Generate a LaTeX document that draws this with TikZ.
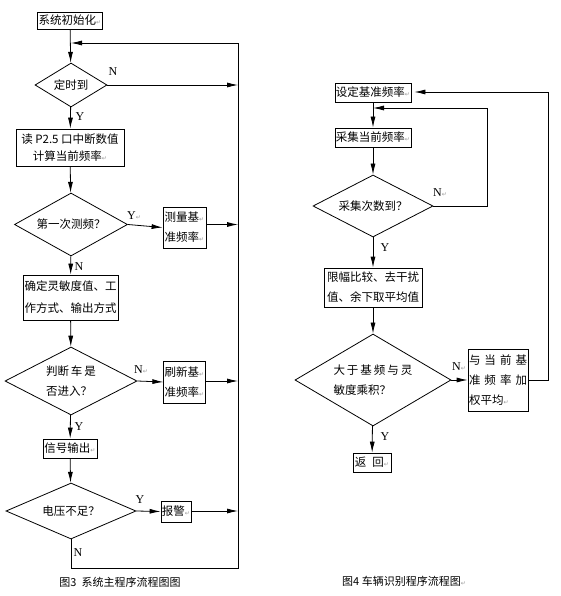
\documentclass[tikz,border=0pt]{standalone}
\usepackage{fontspec}
\setmainfont{Liberation Serif}
\newfontfamily\cjk{Noto Sans CJK SC}
\newfontfamily\symfont{DejaVu Sans}
\usetikzlibrary{arrows.meta,shapes.geometric}
\def\retmark{{\symfont\fontsize{6}{6}\selectfont\color{black!40}↵}}
\tikzset{
	box/.style={draw, line width=0.8pt, inner sep=1pt, align=center, font=\cjk\fontsize{11.5}{20}\selectfont},
	dia/.style={draw, diamond, aspect=2, line width=0.8pt, inner sep=0pt, align=center, font=\cjk\fontsize{11.5}{20}\selectfont},
	arr/.style={line width=0.8pt, -{Latex[length=11pt,width=5pt]}},
	lin/.style={line width=0.8pt},
	lab/.style={inner sep=0pt, font=\fontsize{12}{12}\selectfont},
	figcap/.style={inner sep=0pt, font=\cjk\fontsize{11}{12}\selectfont}
}

\begin{document}
\begin{tikzpicture}[x=1pt, y=-1pt]
			%%%%% 图3 %%%%%
			\useasboundingbox (0,0) rectangle (560,596);
			
			\node[box, minimum width=61pt, minimum height=17pt] (init) at (70,20.5) {系统初始化\retmark};
			\node[dia, minimum width=72pt, minimum height=44pt] (timer) at (71,85) {定时到};
			\node[box, minimum width=108pt, minimum height=37pt, font=\cjk\fontsize{11.5}{17}\selectfont] (read) at (70,147.5) {读 P2.5 口中断数值\\计算当前频率\retmark};
			\node[dia, minimum width=113pt, minimum height=63pt] (first) at (71,224.5) {第一次测频？};
			\node[box, minimum width=43pt, minimum height=41pt] (measure) at (184.5,227.5) {测量基\retmark\\准频率\retmark};
			\node[box, minimum width=95pt, minimum height=45pt, font=\cjk\fontsize{11.5}{22}\selectfont] (sens) at (70.5,297.5) {确定灵敏度值、工\\作方式、输出方式};
			\node[dia, minimum width=132pt, minimum height=68pt, align=left] (car) at (71,381) {判断\hspace{2pt}车\hspace{2pt}是\\否进入？};
			\node[box, minimum width=41pt, minimum height=42pt] (refresh) at (184.5,382) {刷新基\retmark\\准频率\retmark};
			\node[box, minimum width=54pt, minimum height=19pt] (output) at (70,448.5) {信号输出\retmark};
			\node[dia, minimum width=130pt, minimum height=56pt] (volt) at (71,511) {电压不足？};
			\node[box, minimum width=30pt, minimum height=21pt] (alarm) at (176,511.5) {报警\retmark};
			
			\coordinate (join) at (71,43);
			\coordinate (ltop) at (238,43);
			\coordinate (lbot) at (238,568);
			\coordinate (lcorner) at (71,568);
			
			\draw[arr] (init) -- (timer);
			\draw[arr] (timer) -- (read);
			\draw[arr] (read) -- (first);
			\draw[arr] (first) -- (sens);
			\draw[arr] (sens) -- (car);
			\draw[arr] (car) -- (output);
			\draw[arr] (output) -- (volt);
			
			\draw[arr] (first.east) -- (measure.west);
			\draw[arr] (car.east) -- (refresh.west);
			\draw[arr] (volt.east) -- (alarm.west);
			
			\draw[arr] (timer.east) -- (timer.east -| ltop);
			\draw[arr] (measure.east |- first.east) -- (first.east -| ltop);
			\draw[arr] (refresh.east |- car.east) -- (car.east -| ltop);
			\draw[arr] (alarm.east |- volt.east) -- (volt.east -| ltop);
			
			\draw[lin] (volt.south) -- (lcorner) -- (lbot) -- (ltop);
			\draw[arr] (ltop) -- (join);
			
			\node[lab] (n1) at (113,72) {N};
			\node[lab] (y1) at (80,117) {Y};
			\node[lab] (y2) at (134,216) {Y\retmark};
			\node[lab] (n2) at (79,267) {N};
			\node[lab] (n3) at (141,370) {N\retmark};
			\node[lab] (y3) at (79,427) {Y};
			\node[lab] (y4) at (140,500) {Y};
			\node[lab] (n4) at (78,553) {N};
			
			\node[figcap] (cap3) at (120,582) {图3\ \ 系统主程序流程图图};
			
			%%%%% 图4 %%%%%
			
			\node[box, minimum width=75pt, minimum height=19pt] (base) at (373,92.5) {设定基准频率\retmark};
			\node[box, minimum width=76pt, minimum height=19pt] (collect) at (373,137.5) {采集当前频率\retmark};
			\node[dia, minimum width=120pt, minimum height=62pt] (count) at (373,206) {采集次数到？};
			\node[box, minimum width=98pt, minimum height=39pt] (filter) at (373,287.5) {限幅比较、去干扰\\值、余下取平均值};
			\node[dia, minimum width=156pt, minimum height=92pt, align=left] (comp) at (373,380) {大\hspace{2pt}于\hspace{2pt}基\hspace{2pt}频\hspace{2pt}与\hspace{2pt}灵\\敏度乘积？};
			\node[box, minimum width=60pt, minimum height=62pt, align=left] (avg) at (498,380) {与\hspace{4pt}当\hspace{4pt}前\hspace{4pt}基\\准\hspace{4pt}频\hspace{4pt}率\hspace{4pt}加\\权平均\retmark};
			\node[box, minimum width=38pt, minimum height=19pt] (back) at (372,462.5) {返\hspace{6pt}回\retmark};
			
			\coordinate (rtop) at (548,92);
			\coordinate (iloop) at (487,108);
			
			\draw[arr] (base) -- (collect);
			\draw[arr] (collect) -- (count);
			\draw[arr] (count) -- (filter);
			\draw[arr] (filter) -- (comp);
			\draw[arr] (comp) -- (back);
			\draw[arr] (comp.east) -- (avg.west);
			
			\draw[lin] (count.east) -- (count.east -| iloop) -- (iloop);
			\draw[arr] (iloop) -- (iloop -| collect.north);
			
			\draw[lin] (avg.east) -- (avg.east -| rtop) -- (rtop);
			\draw[arr, shorten >=3pt] (rtop) -- (base.east |- rtop);
			
			\node[lab] (n5) at (440,193) {N\retmark};
			\node[lab] (y5) at (385,248) {Y};
			\node[lab] (n6) at (459,367) {N\retmark};
			\node[lab] (y6) at (385,437) {Y};
			
			\node[figcap] (cap4) at (404,581) {图4\ 车辆识别程序流程图\retmark};
			
\end{tikzpicture}
\end{document}
